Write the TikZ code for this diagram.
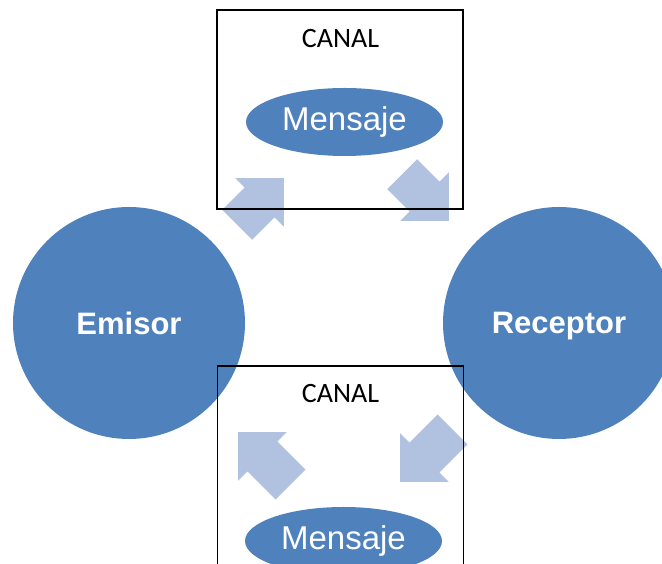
\documentclass[tikz,border=0pt]{standalone}
\usepackage{fontspec}
\setmainfont{Liberation Sans}
\newfontfamily\canalfont{Carlito}
\usetikzlibrary{shapes.geometric,shapes.arrows}
\definecolor{accentblue}{HTML}{4F81BD}
\definecolor{flowblue}{HTML}{B0C2DF}
\tikzset{
  party/.style={circle, fill=accentblue, text=white, minimum size=232pt, inner sep=0pt, text depth=0pt, font=\bfseries\fontsize{31}{31}\selectfont},
  msg/.style={ellipse, fill=accentblue, text=white, minimum width=197pt, minimum height=68pt, inner sep=0pt, font=\fontsize{33}{33}\selectfont},
  flow/.style={single arrow, fill=flowblue, single arrow head extend=13pt, inner xsep=0pt, inner ysep=21pt, anchor=tip, minimum height=#1},
  flow/.default=70pt,
  channel/.style={draw=black, line width=1.5pt, minimum width=246pt, inner sep=0pt},
  chlabel/.style={font=\canalfont\fontsize{28}{28}\selectfont, anchor=base}
}
\begin{document}
\begin{tikzpicture}[x=1pt, y=1pt]
    \useasboundingbox (0,0) rectangle (662,564);
    % Emisor and Receptor
    \node[party] (emisor) at (129,241) {Emisor};
    \node[party] (receptor) at (559,241) {Receptor};
    % Flow arrows: up-right, down-right, down-left, up-left
    \node[flow=66pt, rotate=45] (f1) at (284,386) {};
    \node[flow=66pt, rotate=-45] (f2) at (449,343) {};
    \node[flow=74pt, rotate=-135] (f3) at (400,82) {};
    \node[flow=74pt, rotate=135] (f4) at (238,132) {};
    % Messages
    \node[msg] (msj1) at (344.5,442) {Mensaje};
    \node[msg] (msj2) at (343.5,23) {Mensaje};
    % Channels
    \node[channel, minimum height=199pt] (canal1) at (340,454.5) {};
    \node[channel, minimum height=220pt] (canal2) at (340.5,88) {};
    \node[chlabel] (lbl1) at (340.5,516) {CANAL};
    \node[chlabel] (lbl2) at (340.5,161) {CANAL};
\end{tikzpicture}
\end{document}
